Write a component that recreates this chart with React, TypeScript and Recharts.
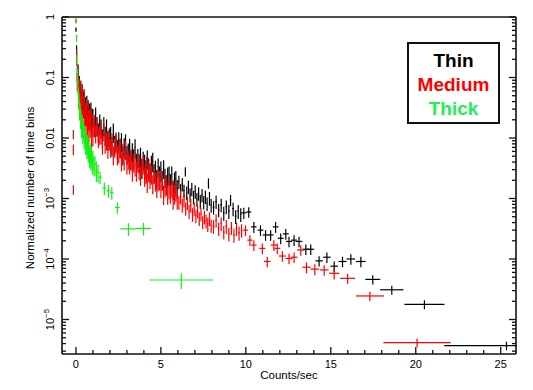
import React from 'react';
import { ScatterChart, Scatter, XAxis, YAxis, ErrorBar } from 'recharts';

type Pt = [number, number, number, number]; // x, y, xErr, yErr

const THIN_POINTS: Pt[] = [
  [0.0, 0.62, 0.02, 0.05], [0.04, 0.28, 0.02, 0.06], [0.08, 0.115, 0.02, 0.03], [0.12, 0.126, 0.02, 0.04],
  [0.16, 0.071, 0.02, 0.02], [0.2, 0.081, 0.02, 0.025], [0.24, 0.048, 0.02, 0.015], [0.28, 0.068, 0.02, 0.02],
  [0.32, 0.046, 0.02, 0.014], [0.36, 0.06, 0.02, 0.018], [0.4, 0.032, 0.02, 0.01], [0.44, 0.044, 0.02, 0.013],
  [0.48, 0.049, 0.02, 0.015], [0.52, 0.028, 0.02, 0.009], [0.56, 0.036, 0.02, 0.011], [0.6, 0.023, 0.02, 0.007],
  [0.64, 0.038, 0.02, 0.012], [0.68, 0.025, 0.02, 0.008], [0.72, 0.032, 0.02, 0.01], [0.76, 0.02, 0.02, 0.006],
  [0.8, 0.028, 0.02, 0.009], [0.84, 0.0224, 0.02, 0.007], [0.88, 0.0295, 0.02, 0.009], [0.92, 0.017, 0.02, 0.005],
  [0.96, 0.0234, 0.02, 0.007],
  [1.0, 0.0224, 0.02, 0.0078], [1.08, 0.0158, 0.02, 0.0055], [1.16, 0.0237, 0.02, 0.0083], [1.24, 0.0163, 0.02, 0.0057],
  [1.32, 0.0129, 0.02, 0.0045], [1.4, 0.0181, 0.02, 0.0063], [1.48, 0.015, 0.02, 0.0053], [1.56, 0.0103, 0.02, 0.0036],
  [1.64, 0.0163, 0.02, 0.0057], [1.72, 0.0114, 0.02, 0.004], [1.8, 0.015, 0.02, 0.0053], [1.88, 0.00964, 0.02, 0.0034],
  [1.96, 0.0107, 0.02, 0.0037], [2.04, 0.0113, 0.02, 0.004], [2.12, 0.00766, 0.02, 0.0027], [2.2, 0.0128, 0.02, 0.0045],
  [2.28, 0.0081, 0.02, 0.0028], [2.36, 0.0091, 0.02, 0.0032], [2.44, 0.0068, 0.02, 0.0024], [2.52, 0.0092, 0.02, 0.0032],
  [2.6, 0.0072, 0.02, 0.0025], [2.68, 0.0089, 0.02, 0.0031], [2.76, 0.0054, 0.02, 0.0019], [2.84, 0.0073, 0.02, 0.0026],
  [2.92, 0.0085, 0.02, 0.003], [3.0, 0.0055, 0.02, 0.0019], [3.08, 0.006, 0.02, 0.0021], [3.16, 0.0072, 0.02, 0.0025],
  [3.24, 0.0045, 0.02, 0.0016], [3.32, 0.0061, 0.02, 0.0021], [3.4, 0.0048, 0.02, 0.0017], [3.48, 0.007, 0.02, 0.0025],
  [3.56, 0.0041, 0.02, 0.0014], [3.64, 0.0049, 0.02, 0.0017], [3.72, 0.004, 0.02, 0.0014], [3.8, 0.0051, 0.02, 0.0018],
  [3.88, 0.0033, 0.02, 0.0012], [3.96, 0.0044, 0.02, 0.0015], [4.04, 0.0039, 0.02, 0.0014], [4.12, 0.0032, 0.02, 0.0011],
  [4.2, 0.0046, 0.02, 0.0016], [4.28, 0.0034, 0.02, 0.0012], [4.36, 0.0028, 0.02, 0.001], [4.44, 0.0038, 0.02, 0.0013],
  [4.52, 0.0042, 0.02, 0.0015], [4.6, 0.0027, 0.02, 0.00095], [4.68, 0.0031, 0.02, 0.0011], [4.76, 0.0022, 0.02, 0.00077],
  [4.84, 0.0034, 0.02, 0.0012], [4.92, 0.0025, 0.02, 0.00088], [5.0, 0.003, 0.02, 0.0011], [5.08, 0.0021, 0.02, 0.00074],
  [5.16, 0.0032, 0.02, 0.0011], [5.24, 0.0023, 0.02, 0.0008], [5.32, 0.0018, 0.02, 0.00063], [5.4, 0.0024, 0.02, 0.00084],
  [5.48, 0.0025, 0.02, 0.00088], [5.56, 0.00186, 0.02, 0.00065], [5.64, 0.0025, 0.02, 0.00088], [5.72, 0.00145, 0.02, 0.00051],
  [5.8, 0.002, 0.02, 0.0007], [5.88, 0.0021, 0.02, 0.00074], [5.96, 0.0015, 0.02, 0.00053],
  [6.06, 0.0019, 0.03, 0.00048], [6.16, 0.00138, 0.03, 0.00035], [6.26, 0.00174, 0.03, 0.00044], [6.36, 0.00135, 0.03, 0.00034],
  [6.44, 0.0028, 0.03, 0.0005], [6.52, 0.00126, 0.03, 0.00032], [6.62, 0.00158, 0.03, 0.0004], [6.72, 0.00117, 0.03, 0.0003],
  [6.82, 0.00145, 0.03, 0.00036], [6.92, 0.00107, 0.03, 0.00027], [7.02, 0.00132, 0.03, 0.00033], [7.12, 0.00098, 0.03, 0.00025],
  [7.22, 0.00123, 0.03, 0.00031], [7.32, 0.00091, 0.03, 0.00023], [7.42, 0.00115, 0.03, 0.00029], [7.52, 0.00088, 0.03, 0.00022],
  [7.62, 0.00108, 0.03, 0.00027], [7.72, 0.00083, 0.03, 0.00021], [7.8, 0.0018, 0.03, 0.00035], [7.86, 0.00102, 0.03, 0.00026],
  [7.96, 0.00078, 0.03, 0.0002], [8.1, 0.00072, 0.05, 0.00018], [8.25, 0.00089, 0.05, 0.00022], [8.4, 0.00065, 0.05, 0.00016],
  [8.55, 0.00079, 0.05, 0.0002], [8.7, 0.00058, 0.05, 0.00015], [8.85, 0.00074, 0.05, 0.00019], [9.0, 0.00062, 0.05, 0.00016],
  [9.1, 0.00095, 0.04, 0.0002], [9.25, 0.00068, 0.05, 0.00017], [9.4, 0.00051, 0.05, 0.00013], [9.55, 0.00062, 0.05, 0.00016],
  [9.7, 0.00055, 0.05, 0.00014],
  [9.88, 5.8e-4, 0.15, 1.2e-4], [10.17, 6.0e-4, 0.15, 1.2e-4], [10.47, 3.4e-4, 0.16, 7e-5], [10.86, 3.0e-4, 0.17, 6e-5],
  [11.16, 2.5e-4, 0.17, 5e-5], [11.46, 2.5e-4, 0.17, 5e-5], [11.75, 3.4e-4, 0.17, 7e-5], [12.05, 2.2e-4, 0.18, 4.4e-5],
  [12.35, 2.6e-4, 0.18, 5.2e-5], [12.54, 1.95e-4, 0.18, 3.9e-5], [12.84, 2.05e-4, 0.18, 4.1e-5], [13.13, 1.95e-4, 0.2, 3.9e-5],
  [13.53, 1.45e-4, 0.2, 2.9e-5], [13.82, 1.45e-4, 0.2, 2.9e-5], [14.31, 9.3e-5, 0.22, 1.8e-5], [14.77, 1.07e-4, 0.22, 2.1e-5],
  [15.2, 7.6e-5, 0.22, 1.5e-5], [15.69, 9.1e-5, 0.24, 1.8e-5], [16.18, 1.0e-4, 0.25, 2e-5], [16.77, 9.1e-5, 0.28, 1.8e-5],
  [17.47, 4.6e-5, 0.44, 8e-6], [18.59, 3.1e-5, 0.69, 5.3e-6], [20.51, 1.78e-5, 1.18, 3e-6], [25.34, 3.7e-6, 3.66, 6e-7],
];

const MEDIUM_POINTS: Pt[] = [
  [-0.15, 0.0115, 0, 0.002], [-0.15, 0.0065, 0, 0.0013], [-0.15, 0.0014, 0, 0.00025],
  [0.0, 0.85, 0.02, 0.06], [0.04, 0.224, 0.02, 0.07], [0.08, 0.089, 0.02, 0.03], [0.12, 0.117, 0.02, 0.04],
  [0.16, 0.051, 0.02, 0.02], [0.2, 0.068, 0.02, 0.027], [0.24, 0.033, 0.02, 0.013], [0.28, 0.063, 0.02, 0.025],
  [0.32, 0.036, 0.02, 0.014], [0.36, 0.05, 0.02, 0.02], [0.4, 0.021, 0.02, 0.008], [0.44, 0.035, 0.02, 0.014],
  [0.48, 0.044, 0.02, 0.017], [0.52, 0.021, 0.02, 0.008], [0.56, 0.027, 0.02, 0.011], [0.6, 0.0158, 0.02, 0.006],
  [0.64, 0.032, 0.02, 0.013], [0.68, 0.018, 0.02, 0.007], [0.72, 0.026, 0.02, 0.01], [0.76, 0.0138, 0.02, 0.0055],
  [0.8, 0.021, 0.02, 0.008], [0.84, 0.0166, 0.02, 0.0066], [0.88, 0.023, 0.02, 0.009], [0.92, 0.0112, 0.02, 0.0045],
  [0.96, 0.0174, 0.02, 0.007],
  [1.0, 0.0112, 0.02, 0.0039], [1.08, 0.0177, 0.02, 0.0062], [1.16, 0.0125, 0.02, 0.0044], [1.24, 0.0163, 0.02, 0.0057],
  [1.32, 0.0105, 0.02, 0.0037], [1.4, 0.0117, 0.02, 0.0041], [1.48, 0.0122, 0.02, 0.0043], [1.56, 0.0082, 0.02, 0.0029],
  [1.64, 0.0135, 0.02, 0.0047], [1.72, 0.0085, 0.02, 0.003], [1.8, 0.0095, 0.02, 0.0033], [1.88, 0.007, 0.02, 0.0025],
  [1.96, 0.0094, 0.02, 0.0033], [2.04, 0.0072, 0.02, 0.0025], [2.12, 0.0089, 0.02, 0.0031], [2.2, 0.0054, 0.02, 0.0019],
  [2.28, 0.0073, 0.02, 0.0026], [2.36, 0.0084, 0.02, 0.0029], [2.44, 0.0054, 0.02, 0.0019], [2.52, 0.0058, 0.02, 0.002],
  [2.6, 0.007, 0.02, 0.0025], [2.68, 0.0043, 0.02, 0.0015], [2.76, 0.0059, 0.02, 0.0021], [2.84, 0.0045, 0.02, 0.0016],
  [2.92, 0.0066, 0.02, 0.0023], [3.0, 0.0038, 0.02, 0.0013], [3.08, 0.0046, 0.02, 0.0016], [3.16, 0.0038, 0.02, 0.0013],
  [3.24, 0.0048, 0.02, 0.0017], [3.32, 0.003, 0.02, 0.0011], [3.4, 0.0041, 0.02, 0.0014], [3.48, 0.0036, 0.02, 0.0013],
  [3.56, 0.003, 0.02, 0.0011], [3.64, 0.0042, 0.02, 0.0015], [3.72, 0.0031, 0.02, 0.0011], [3.8, 0.0025, 0.02, 0.00088],
  [3.88, 0.0034, 0.02, 0.0012], [3.96, 0.0038, 0.02, 0.0013], [4.04, 0.0024, 0.02, 0.00084], [4.12, 0.0027, 0.02, 0.00095],
  [4.17, 0.0034, 0.02, 0.0016], [4.2, 0.0019, 0.02, 0.00067], [4.28, 0.003, 0.02, 0.0011], [4.36, 0.0022, 0.02, 0.00077],
  [4.44, 0.0026, 0.02, 0.00091], [4.52, 0.0018, 0.02, 0.00063], [4.6, 0.0027, 0.02, 0.00095], [4.68, 0.002, 0.02, 0.0007],
  [4.76, 0.00155, 0.02, 0.00054], [4.84, 0.002, 0.02, 0.0007], [4.92, 0.0021, 0.02, 0.00074], [5.0, 0.00155, 0.02, 0.00054],
  [5.08, 0.0021, 0.02, 0.00074], [5.16, 0.0012, 0.02, 0.00042], [5.24, 0.0016, 0.02, 0.00056], [5.32, 0.0017, 0.02, 0.0006],
  [5.4, 0.00122, 0.02, 0.00043], [5.48, 0.0015, 0.02, 0.00053], [5.56, 0.00126, 0.02, 0.00044], [5.64, 0.0016, 0.02, 0.00056],
  [5.72, 0.001, 0.02, 0.00035], [5.8, 0.00121, 0.02, 0.00042], [5.85, 0.0015, 0.02, 0.0004], [5.88, 0.00136, 0.02, 0.00048],
  [5.96, 0.001, 0.02, 0.00035],
  [6.06, 0.00087, 0.03, 0.00022], [6.16, 0.00107, 0.03, 0.00027], [6.26, 0.00078, 0.03, 0.0002], [6.36, 0.00095, 0.03, 0.00024],
  [6.46, 0.00069, 0.03, 0.00017], [6.56, 0.00085, 0.03, 0.00021], [6.66, 0.00062, 0.03, 0.00016], [6.76, 0.00078, 0.03, 0.0002],
  [6.86, 0.00055, 0.03, 0.00014], [6.96, 0.00069, 0.03, 0.00017], [7.06, 0.00052, 0.03, 0.00013], [7.16, 0.00063, 0.03, 0.00016],
  [7.26, 0.00047, 0.03, 0.00012], [7.36, 0.00056, 0.03, 0.00014], [7.46, 0.00041, 0.03, 0.0001], [7.56, 0.0005, 0.03, 0.00013],
  [7.66, 0.00043, 0.03, 0.00011], [7.76, 0.00038, 0.03, 0.0001], [7.86, 0.00047, 0.03, 0.00012], [7.96, 0.00036, 0.03, 9e-5],
  [8.1, 0.00035, 0.05, 9e-5], [8.25, 0.00044, 0.05, 0.00011], [8.4, 0.00032, 0.05, 8e-5], [8.55, 0.00039, 0.05, 0.0001],
  [8.7, 0.00028, 0.05, 7e-5], [8.85, 0.00035, 0.05, 9e-5], [9.0, 0.00026, 0.05, 6.5e-5], [9.15, 0.00033, 0.05, 8e-5],
  [9.3, 0.00025, 0.05, 6.5e-5], [9.45, 0.00032, 0.05, 8e-5], [9.6, 0.00027, 0.05, 7e-5], [9.75, 0.0003, 0.05, 7.5e-5],
  [9.98, 3.0e-4, 0.14, 6e-5], [10.24, 2.05e-4, 0.15, 4.1e-5], [10.47, 1.7e-4, 0.16, 3.4e-5], [10.97, 1.5e-4, 0.18, 3e-5],
  [11.26, 9.1e-5, 0.2, 1.8e-5], [11.65, 1.7e-4, 0.18, 3.4e-5], [11.85, 1.5e-4, 0.18, 3e-5], [12.15, 1.12e-4, 0.2, 2.2e-5],
  [12.54, 1.02e-4, 0.2, 2e-5], [12.84, 1.07e-4, 0.2, 2.1e-5], [13.23, 1.41e-4, 0.22, 2.8e-5], [13.57, 7.3e-5, 0.24, 1.5e-5],
  [14.06, 6.8e-5, 0.25, 1.4e-5], [14.61, 6.6e-5, 0.26, 1.3e-5], [15.2, 5.8e-5, 0.3, 1.2e-5], [15.99, 4.8e-5, 0.44, 9e-6],
  [17.3, 2.45e-5, 0.83, 4.2e-6], [20.08, 4.15e-6, 1.98, 7e-7],
];

const THICK_POINTS: Pt[] = [
  [0.0, 0.9, 0.02, 0.08], [0.03, 0.45, 0.02, 0.06], [0.06, 0.2, 0.02, 0.04], [0.09, 0.11, 0.02, 0.03],
  [0.12, 0.072, 0.02, 0.02], [0.15, 0.05, 0.02, 0.015], [0.18, 0.042, 0.02, 0.013], [0.21, 0.03, 0.02, 0.01],
  [0.24, 0.028, 0.02, 0.009], [0.27, 0.021, 0.02, 0.007], [0.3, 0.022, 0.02, 0.007], [0.33, 0.016, 0.02, 0.006],
  [0.36, 0.018, 0.02, 0.006], [0.4, 0.0125, 0.02, 0.0045], [0.44, 0.0145, 0.02, 0.005], [0.48, 0.0105, 0.02, 0.004],
  [0.52, 0.0118, 0.02, 0.0042], [0.56, 0.0085, 0.02, 0.0032], [0.6, 0.0098, 0.02, 0.0036], [0.64, 0.0072, 0.02, 0.0027],
  [0.68, 0.0082, 0.02, 0.003], [0.72, 0.0062, 0.02, 0.0023], [0.76, 0.0071, 0.02, 0.0026], [0.8, 0.0052, 0.02, 0.002],
  [0.84, 0.006, 0.02, 0.0022], [0.88, 0.0046, 0.02, 0.0017], [0.92, 0.0052, 0.02, 0.0019], [0.96, 0.004, 0.02, 0.0015],
  [1.0, 0.0045, 0.03, 0.0016], [1.06, 0.0036, 0.03, 0.0013], [1.12, 0.0037, 0.04, 0.0013], [1.2, 0.003, 0.04, 0.0011],
  [1.3, 0.0027, 0.05, 0.0009],
  [1.42, 2.24e-3, 0.1, 5e-4], [1.67, 1.48e-3, 0.1, 3.5e-4], [1.91, 1.35e-3, 0.1, 3.2e-4], [2.11, 1.25e-3, 0.1, 3e-4],
  [2.44, 7.1e-4, 0.14, 1.5e-4], [3.09, 3.15e-4, 0.47, 7.5e-5], [3.98, 3.2e-4, 0.44, 7.5e-5], [6.2, 4.5e-5, 1.86, 1.3e-5],
];

const X_TICKS = [0, 1, 2, 3, 4, 5, 6, 7, 8, 9, 10, 11, 12, 13, 14, 15, 16, 17, 18, 19, 20, 21, 22, 23, 24, 25];
const X_LABELED = [0, 5, 10, 15, 20, 25];
const Y_TICKS = [
  3e-6, 4e-6, 5e-6, 6e-6, 7e-6, 8e-6, 9e-6,
  1e-5, 2e-5, 3e-5, 4e-5, 5e-5, 6e-5, 7e-5, 8e-5, 9e-5,
  1e-4, 2e-4, 3e-4, 4e-4, 5e-4, 6e-4, 7e-4, 8e-4, 9e-4,
  1e-3, 2e-3, 3e-3, 4e-3, 5e-3, 6e-3, 7e-3, 8e-3, 9e-3,
  0.01, 0.02, 0.03, 0.04, 0.05, 0.06, 0.07, 0.08, 0.09,
  0.1, 0.2, 0.3, 0.4, 0.5, 0.6, 0.7, 0.8, 0.9, 1,
];
const Y_MAJOR_EXP = [0, -1, -2, -3, -4, -5];
const Y_LABELS: [string, string][] = [['1', ''], ['0.1', ''], ['0.01', ''], ['10', '\u22123'], ['10', '\u22124'], ['10', '\u22125']];

const LEGEND = [
  { label: 'Thin', color: '#000000' },
  { label: 'Medium', color: '#ff0000' },
  { label: 'Thick', color: '#22ee55' },
];

const SERIES_COLORS = { thin: '#000000', medium: '#ff0000', thick: '#11ee11' };

const toRows = (pts: Pt[]) => pts.map(([x, y, ex, ey]) => ({ x, y, ex, ey }));

const FONT = '"Liberation Sans", Arial, Helvetica, sans-serif';
const X_DOMAIN: [number, number] = [-0.82, 25.9];
const Y_DOMAIN: [number, number] = [2.69e-6, 1];

const majorExp = (v: number) => {
  const l = Math.log10(v);
  const r = Math.round(l);
  return Math.abs(l - r) < 1e-6 ? r : null;
};

const XTickBottom = (props: any) => {
  const { x, y, payload } = props;
  const v = payload.value;
  const major = X_LABELED.includes(v);
  return (
    <g>
      <line x1={x} x2={x} y1={y} y2={y - (major ? 7 : 4)} stroke="#111" strokeWidth={1.3} />
      {major && (
        <text x={x} y={y + 14} textAnchor="middle" fontSize={11} fontFamily={FONT} fill="#000">
          {v}
        </text>
      )}
    </g>
  );
};

const XTickTop = (props: any) => {
  const { x, y, payload } = props;
  const major = X_LABELED.includes(payload.value);
  return <line x1={x} x2={x} y1={y} y2={y + (major ? 7 : 4)} stroke="#111" strokeWidth={1.3} />;
};

const YTickLeft = (props: any) => {
  const { x, y, payload } = props;
  const e = majorExp(payload.value);
  const idx = e === null ? -1 : Y_MAJOR_EXP.indexOf(e);
  const lab = idx >= 0 ? Y_LABELS[idx] : null;
  const tx = x - 8;
  return (
    <g>
      <line x1={x} x2={x + (e !== null ? 7 : 4)} y1={y} y2={y} stroke="#111" strokeWidth={1.3} />
      {lab && (
        <text x={tx} y={y} transform={`rotate(-90 ${tx} ${y})`} textAnchor="middle" fontSize={11} fontFamily={FONT} fill="#000">
          <tspan>{lab[0]}</tspan>
          {lab[1] && (
            <tspan dy={-5} fontSize={8}>
              {lab[1]}
            </tspan>
          )}
        </text>
      )}
    </g>
  );
};

const YTickRight = (props: any) => {
  const { x, y, payload } = props;
  const e = majorExp(payload.value);
  return <line x1={x} x2={x - (e !== null ? 7 : 4)} y1={y} y2={y} stroke="#111" strokeWidth={1.3} />;
};

const NoMarker = () => <g />;

const series = [
  { key: 'thin', rows: toRows(THIN_POINTS), color: SERIES_COLORS.thin },
  { key: 'medium', rows: toRows(MEDIUM_POINTS), color: SERIES_COLORS.medium },
  { key: 'thick', rows: toRows(THICK_POINTS), color: SERIES_COLORS.thick },
];

export default function App() {
  return (
    <div style={{ position: 'absolute', left: 0, top: 0, width: 533, height: 390, background: '#fff' }}>
      <ScatterChart width={533} height={390} margin={{ top: 0, right: 0, bottom: 0, left: 0 }}>
        <XAxis
          xAxisId={0}
          dataKey="x"
          type="number"
          domain={X_DOMAIN}
          allowDataOverflow
          ticks={X_TICKS}
          interval={0}
          tickSize={0}
          tickMargin={0}
          height={36}
          tick={<XTickBottom />}
          axisLine={{ stroke: '#111', strokeWidth: 1.6 }}
        />
        <XAxis
          xAxisId="top"
          orientation="top"
          type="number"
          domain={X_DOMAIN}
          allowDataOverflow
          ticks={X_TICKS}
          interval={0}
          tickSize={0}
          tickMargin={0}
          height={17}
          tick={<XTickTop />}
          axisLine={{ stroke: '#111', strokeWidth: 1.6 }}
        />
        <YAxis
          yAxisId={0}
          dataKey="y"
          type="number"
          scale="log"
          domain={Y_DOMAIN}
          allowDataOverflow
          ticks={Y_TICKS}
          interval={0}
          tickSize={0}
          tickMargin={0}
          width={62}
          tick={<YTickLeft />}
          axisLine={{ stroke: '#111', strokeWidth: 1.6 }}
        />
        <YAxis
          yAxisId="right"
          orientation="right"
          type="number"
          scale="log"
          domain={Y_DOMAIN}
          allowDataOverflow
          ticks={Y_TICKS}
          interval={0}
          tickSize={0}
          tickMargin={0}
          width={17}
          tick={<YTickRight />}
          axisLine={{ stroke: '#111', strokeWidth: 1.6 }}
        />
        {series.map((s) => (
          <Scatter
            key={s.key}
            name={s.key}
            data={s.rows}
            xAxisId={0}
            yAxisId={0}
            shape={NoMarker}
            isAnimationActive={false}
          >
            <ErrorBar dataKey="ex" direction="x" width={0} stroke={s.color} strokeWidth={1.2} isAnimationActive={false} />
            <ErrorBar dataKey="ey" direction="y" width={0} stroke={s.color} strokeWidth={1.2} isAnimationActive={false} />
          </Scatter>
        ))}
      </ScatterChart>
      <svg width={533} height={390} style={{ position: 'absolute', left: 0, top: 0, pointerEvents: 'none' }}>
        <rect x={517} y={0} width={16} height={390} fill="#fff" />
        <rect x={60} y={0} width={473} height={16} fill="#fff" />
        <text x={289} y={379} textAnchor="middle" fontSize={11.5} fontFamily={FONT} fill="#000">
          Counts/sec
        </text>
        <text x={34} y={188} transform="rotate(-90 34 188)" textAnchor="middle" fontSize={11.5} fontFamily={FONT} fill="#000">
          Normalized number of time bins
        </text>
        <rect x={408} y={43} width={91} height={80} fill="#fff" stroke="#111" strokeWidth={2} />
        {LEGEND.map((l, i) => (
          <text
            key={l.label}
            x={453.5}
            y={67 + i * 24}
            textAnchor="middle"
            fontSize={19}
            fontWeight="bold"
            fontFamily={FONT}
            fill={l.color}
          >
            {l.label}
          </text>
        ))}
      </svg>
    </div>
  );
}
